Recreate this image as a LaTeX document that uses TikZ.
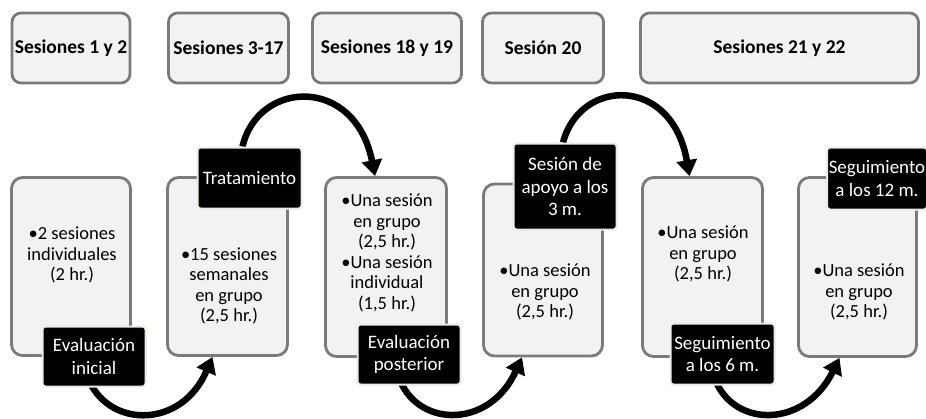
\documentclass[tikz,border=0pt]{standalone}
\usepackage{fontspec}
\setmainfont{Carlito}
\usetikzlibrary{arrows.meta}
\definecolor{boxfill}{HTML}{F2F2F2}
\definecolor{boxline}{HTML}{7A7A7A}
\definecolor{tagline}{HTML}{EDEDDF}
\pgfdeclarelayer{bg}
\pgfsetlayers{bg,main}
\begin{document}
\begin{tikzpicture}[x=1pt,y=-1pt,
 hdr/.style={draw=boxline, fill=boxfill, line width=2.8pt, rounded corners=9pt, minimum height=70pt, font=\fontsize{19.5}{22}\selectfont\bfseries, inner sep=0pt},
 big/.style={draw=boxline, fill=boxfill, line width=2.8pt, rounded corners=11pt, inner sep=0pt},
 body/.style={align=center, font=\fontsize{18.5}{20.5}\selectfont, inner sep=0pt},
 tag/.style={draw=tagline, fill=black, text=white, line width=2pt, rounded corners=3pt, align=center, font=\fontsize{19}{22.5}\selectfont, inner sep=0pt},
 flow/.style={line width=6.5pt, -{Triangle[length=16pt,width=20pt]}}]
\useasboundingbox (0,0) rectangle (926,418);

% headers
\node[hdr, minimum width=118pt] (h1) at (71,48) {Sesiones 1 y 2};
\node[hdr, minimum width=120pt] (h2) at (228.5,48) {Sesiones 3-17};
\node[hdr, minimum width=149pt] (h3) at (387,48) {Sesiones 18 y 19};
\node[hdr, minimum width=121pt] (h4) at (543,48) {Sesión 20};
\node[hdr, minimum width=278pt] (h5) at (779.5,48) {Sesiones 21 y 22};

% big boxes
\node[big, minimum width=119pt, minimum height=178pt] (b1) at (71,266.5) {};
\node[big, minimum width=120pt, minimum height=178pt] (b2) at (227.5,266.5) {};
\node[big, minimum width=121pt, minimum height=179pt] (b3) at (386,267) {};
\node[big, minimum width=119pt, minimum height=172pt] (b4) at (543,270) {};
\node[big, minimum width=120pt, minimum height=179pt] (b5) at (702.5,267) {};
\node[big, minimum width=118pt, minimum height=179pt] (b6) at (857.5,267) {};

% body texts
\node[body] (p1) at (72,255) {•2 sesiones\\individuales\\(2 hr.)};
\node[body] (p2) at (229,286) {•15 sesiones\\semanales\\en grupo\\(2,5 hr.)};
\node[body] (p3) at (387,253) {•Una sesión\\en grupo\\(2,5 hr.)\\•Una sesión\\individual\\(1,5 hr.)};
\node[body] (p4) at (545,292) {•Una sesión\\en grupo\\(2,5 hr.)};
\node[body] (p5) at (703,254) {•Una sesión\\en grupo\\(2,5 hr.)};
\node[body] (p6) at (859,292) {•Una sesión\\en grupo\\(2,5 hr.)};

% tags
\node[tag, minimum width=103pt, minimum height=60pt] (t1) at (94,356.5) {Evaluación\\inicial};
\node[tag, minimum width=104pt, minimum height=61pt] (t2) at (249.5,178) {Tratamiento};
\node[tag, minimum width=103pt, minimum height=60pt] (t3) at (409,354.5) {Evaluación\\posterior};
\node[tag, minimum width=103pt, minimum height=86pt] (t4) at (565,186.5) {Sesión de\\apoyo a los\\3 m.};
\node[tag, minimum width=104pt, minimum height=61pt] (t5) at (722.5,354) {Seguimiento\\a los 6 m.};
\node[tag, minimum width=100pt, minimum height=62pt] (t6) at (877,178.5) {Seguimiento\\a los 12 m.};

% arrows
\begin{pgfonlayer}{bg}
\draw[flow] ([xshift=-4pt,yshift=5pt]t1.south) .. controls (112,428) and (182,428) .. ([xshift=-15pt]b2.south);
\draw[flow] ([xshift=-7pt]t2.north) .. controls (258,80) and (355,75) .. ([xshift=-11pt]b3.north);
\draw[flow] ([xshift=-9pt,yshift=5pt]t3.south) .. controls (420,428) and (490,428) .. ([xshift=-21pt]b4.south);
\draw[flow] ([xshift=-2pt]t4.north) .. controls (580,78) and (672,75) .. ([xshift=-13pt]b5.north);
\draw[flow] ([xshift=-7pt,yshift=5pt]t5.south) .. controls (735,428) and (805,428) .. ([xshift=-18pt]b6.south);
\end{pgfonlayer}
\end{tikzpicture}
\end{document}
